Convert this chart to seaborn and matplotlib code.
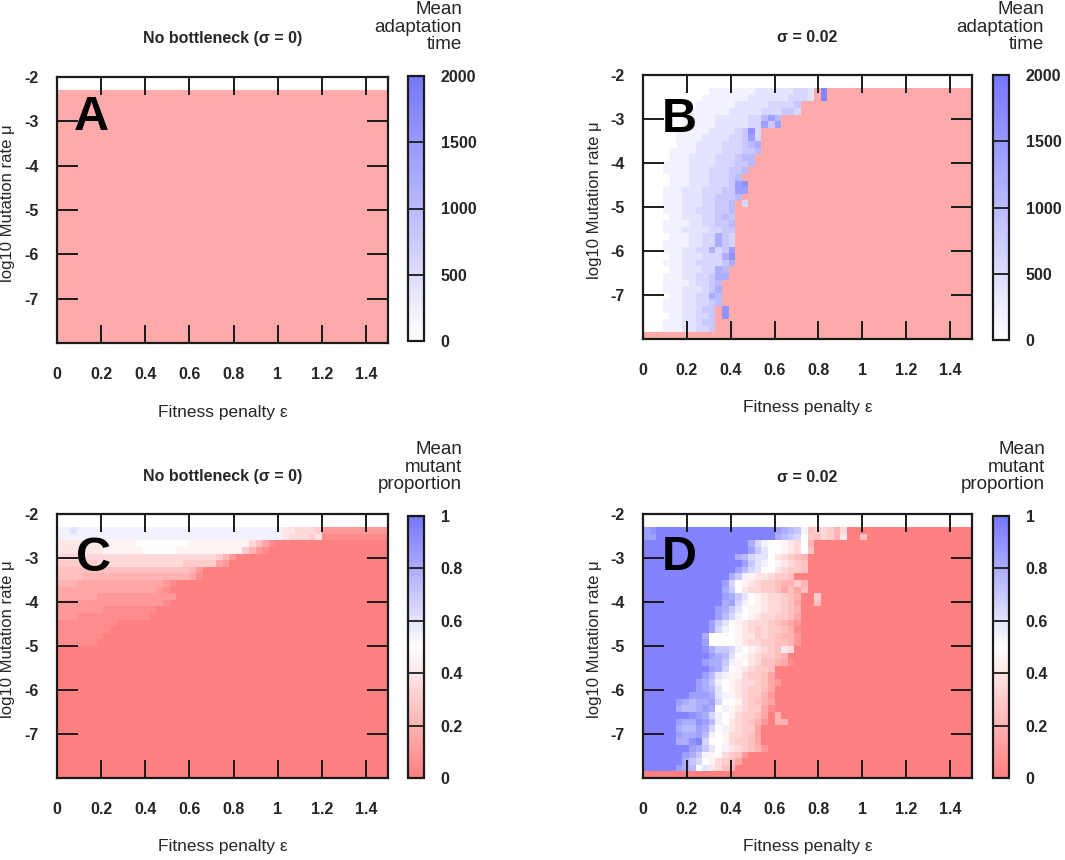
import numpy as np
import pandas as pd
import matplotlib
matplotlib.use("Agg")
import matplotlib.pyplot as plt
import seaborn as sns
from matplotlib.colors import LinearSegmentedColormap, ListedColormap

sns.set_style("white")
plt.rcParams["font.family"] = ["Liberation Sans", "DejaVu Sans"]

# ---------------- grid / axes description ----------------
eps_step = 0.03          # width of one fitness-penalty cell
n_cols = 50              # 0 .. 1.5
mu_top = -2.0
mu_step = 0.15           # height of one log10(mu) cell
n_empty_top = 2          # rows between -2.3 and -2 without data
n_data_rows = 38         # rows from -8 to -2.3

x_ticks = [0, 0.2, 0.4, 0.6, 0.8, 1.0, 1.2, 1.4]
x_tick_labels = ["0", "0.2", "0.4", "0.6", "0.8", "1", "1.2", "1.4"]
y_ticks = [-2, -3, -4, -5, -6, -7, -8]
y_tick_labels = ["-2", "-3", "-4", "-5", "-6", "-7", ""]
time_ticks = [0, 500, 1000, 1500, 2000]
time_tick_labels = ["0", "500", "1000", "1500", "2000"]
prop_ticks = [0, 0.2, 0.4, 0.6, 0.8, 1.0]
prop_tick_labels = ["0", "0.2", "0.4", "0.6", "0.8", "1"]

titles = ["No bottleneck (\u03c3 = 0)", "\u03c3 = 0.02", "No bottleneck (\u03c3 = 0)", "\u03c3 = 0.02"]
letters = ["A", "B", "C", "D"]
xlabel = "Fitness penalty \u03b5"
ylabel = "log10 Mutation rate \u03bc"
cbar_labels = ["Mean\nadaptation\ntime", "Mean\nadaptation\ntime",
               "Mean\nmutant\nproportion", "Mean\nmutant\nproportion"]

# ---------------- data (rows listed from bottom, mu=-8, upward) ----------------
# Adaptation time panels: '.' = population never adapted, digit d = d*200 generations
time_scale = 200
panel_a_rows = [""] * n_data_rows    # no bottleneck: never adapted anywhere

panel_b_rows = [
    "",
    "00011122334",
    "00011122344",
    "00001122334.8",
    "00011122344.8",
    "000111223345",
    "000011223365",
    "000111222346",
    "000111123345",
    "0001112233466",
    "0000112223365",
    "00011122333346",
    "00001122233368",
    "00011122336347",
    "00011112233643",
    "00001112233643",
    "00011122223344",
    "00011112233445",
    "00001122233454",
    "00011122333445",
    "00011122233445.3",
    "000111222334445",
    "0001112223334477",
    "0000111222333478",
    "000011122233345",
    "0001111222333445",
    "00011112222333445",
    "00001112222333455",
    "000011112222333445",
    "000001112222333456",
    "000001111222233473",
    "000001111122223483",
    "000000111112222233" "747",
    "000000111112222233" "575",
    "00000001111112222233" "3443",
    "00000000111111222223" "3334",
    "00000000011111112222" "223332" ".9",
    "00000000001111111222" "222332" ".9",
]

# Mutant proportion panels: base-36 char c -> int(c, 36) / 20  (0 .. 1)
prop_scale = 20
panel_c_rows = [
    "", "", "", "", "", "", "", "", "", "", "", "", "", "", "", "", "", "", "", "",
    "111111",
    "1111111",
    "11111111",
    "111111111",
    "22211111111111",
    "222222211111111",
    "22222222222222221",
    "333333222222222222",
    "33333333333333321",
    "444333333333333321",
    "5555444444444444444431",
    "5555555555555555555542",
    "66666677777777777776666632",
    "777777777777777777777777642",
    "8888888999999aaaaa99999999996421",
    "888888899999aaaaaaaa9999999997531",
    "bbbbbbbbbb" "bbbbbbbbbb" "bbbbbbbbbb" "bbbb" "877768" "1111111111",
    "bbcbbbbbbb" "bbbbbbbbbb" "bbbbbbbbbb" "bbbb" "887776" "2222222222",
]

panel_d_rows = [
    "",
    "jjjjjhgfac8754",
    "jjjjjjgeda97653",
    "jjjjjjhgeb9a7652",
    "jjjjjjjhgecab876542",
    "jjjjjggijdaa976653",
    "jjjjjhgghfba977653",
    "jjjjjgffhgdab87663",
    "jjjjjhggihfba876542044",
    "jjjjjjjihgdba97665304",
    "jjjjjgffghgab9876631",
    "jjjjjhgfgghdaa976543",
    "jjjjjjjhhhgcb9876642",
    "jjjjjjjjhgfca9876653",
    "jjjjjjjjhgeba98776532",
    "jjjjjjjjjhfcb9976653",
    "jjjjjjjjjjhgda987665",
    "jjjjjjjjjhggeb9a8755431",
    "jjjjjjjjjjhgfca9876654",
    "jjjjjjjjjigeedba9876587",
    "jjjjjjjjjhaaaa9877665542",
    "jjjjjjjjjgaaaa9886765442",
    "jjjjjjjjjjhdba9876766541",
    "jjjjjjjjjjheca9877765432",
    "jjjjjjjjjjjhfdba98776653",
    "jjjjjjjjjjjhgeca99877654",
    "jjjjjjjjjjjjghdba9877653005",
    "jjjjjjjjjjjjhgeca9877654006",
    "jjjjjjjjjjjjgea8776653535",
    "jjjjjjjjjjjjhda9876654464",
    "jjjjjjjjjjjjjgeb9887665",
    "jjjjjjjjjjjjjjhfdcaa87665",
    "jjjjjjjjjjjjjjjhecba98765",
    "jjjjjjjjjjjjjjgfdcca87654",
    "jjjjjjjjjjjjjjjjhecaa987a5",
    "jjjjjjjjjjjjjjjjgdbaa987a4",
    "hhjjjjjjjj" "jjjjjjjjjj" "gfeda657648005",
    "hijjjjjjjj" "jjjjjjjjjj" "hgfeb5676470",
]


def decode(rows, fill, scale, base):
    """Turn the row strings into a (top-to-bottom) matrix, NaN where no value."""
    mat = np.full((n_empty_top + n_data_rows, n_cols), np.nan)
    for i, s in enumerate(rows):
        s = s.ljust(n_cols, fill)[:n_cols]
        r = n_empty_top + (n_data_rows - 1 - i)
        for j, ch in enumerate(s):
            if ch != ".":
                mat[r, j] = int(ch, base) * scale
    return mat


def data_mask():
    m = np.zeros((n_empty_top + n_data_rows, n_cols), dtype=bool)
    m[n_empty_top:, :] = True
    return m


mu_centers = [round(mu_top - mu_step * (k + 0.5), 3) for k in range(n_empty_top + n_data_rows)]
eps_centers = [round(eps_step * (k + 0.5), 3) for k in range(n_cols)]

panels = [
    ("time", decode(panel_a_rows, ".", time_scale, 10)),
    ("time", decode(panel_b_rows, ".", time_scale, 10)),
    ("prop", decode(panel_c_rows, "0", 1.0 / prop_scale, 36)),
    ("prop", decode(panel_d_rows, "0", 1.0 / prop_scale, 36)),
]

# ---------------- colours ----------------
no_adapt_color = "#FFAAAA"
time_cmap = LinearSegmentedColormap.from_list("wb", ["#FFFFFF", "#7676FF"])
prop_cmap = LinearSegmentedColormap.from_list("rwb", ["#FF8080", "#FFFFFF", "#7676FF"])
frame_color = "#1a1a1a"

# ---------------- layout (pixels -> figure fraction) ----------------
W, H = 1065, 860
fig = plt.figure(figsize=(W / 100, H / 100), dpi=100)


def rect(l, t, r, b):
    return [l / W, 1 - b / H, (r - l) / W, (b - t) / H]


ax_boxes = [(57, 77, 388, 343), (643, 75, 972, 339), (57, 514, 388, 778), (643, 514, 972, 778)]
cax_boxes = [(408, 76, 424, 341), (993, 75, 1009, 340), (408, 516, 424, 778), (993, 516, 1009, 778)]
cbar_label_pos = [(462, 27), (1044, 27), (462, 467), (1045, 467)]
title_y = [38, 38, 477, 477]
letter_pos = [(0.050, 0.80), (0.056, 0.785), (0.058, 0.785), (0.058, 0.788)]

tick_fs = 11.5
for k, (kind, mat) in enumerate(panels):
    l, t, r, b = ax_boxes[k]
    ax = fig.add_axes(rect(l, t, r, b))
    cax = fig.add_axes(rect(*cax_boxes[k]))
    df = pd.DataFrame(mat, index=mu_centers, columns=eps_centers)
    if kind == "time":
        not_adapted = np.where(data_mask() & np.isnan(mat), 1.0, np.nan)
        sns.heatmap(pd.DataFrame(not_adapted, index=mu_centers, columns=eps_centers),
                    ax=ax, cmap=ListedColormap([no_adapt_color]), vmin=0, vmax=1,
                    cbar=False, xticklabels=False, yticklabels=False)
        sns.heatmap(df, ax=ax, cmap=time_cmap, vmin=0, vmax=2000, cbar=True, cbar_ax=cax,
                    xticklabels=False, yticklabels=False)
        cticks, clabels = time_ticks, time_tick_labels
    else:
        sns.heatmap(df, ax=ax, cmap=prop_cmap, vmin=0, vmax=1, cbar=True, cbar_ax=cax,
                    xticklabels=False, yticklabels=False)
        cticks, clabels = prop_ticks, prop_tick_labels

    ax.set_facecolor("white")
    ax.set_axisbelow(False)
    ax.set_xlim(0, n_cols)
    ax.set_ylim(n_empty_top + n_data_rows, 0)
    ax.set_xticks([v / eps_step for v in x_ticks])
    ax.set_xticklabels(x_tick_labels, fontsize=tick_fs, fontweight="bold", rotation=0)
    ax.set_yticks([(mu_top - v) / mu_step for v in y_ticks])
    ax.set_yticklabels(y_tick_labels, fontsize=tick_fs, fontweight="bold", rotation=0)
    ax.tick_params(axis="x", direction="in", length=13, width=1.4, color=frame_color,
                   top=True, bottom=True, pad=17)
    ax.tick_params(axis="y", direction="in", length=15, width=1.4, color=frame_color,
                   left=True, right=True, pad=13)
    for sp in ax.spines.values():
        sp.set_visible(True)
        sp.set_linewidth(1.6)
        sp.set_color(frame_color)
        sp.set_zorder(5)

    ax.set_xlabel(xlabel, fontsize=12.5)
    ax.xaxis.set_label_coords(0.5, -0.232)
    ax.set_ylabel(ylabel, fontsize=12)
    ax.yaxis.set_label_coords(-0.126, 0.525)

    ax.text(0.5, 1 + (t - title_y[k]) / (b - t), titles[k], transform=ax.transAxes,
            ha="center", va="center", fontsize=11.5, fontweight="bold")
    ax.text(letter_pos[k][0], letter_pos[k][1], letters[k], transform=ax.transAxes,
            ha="left", va="baseline", fontsize=35, fontweight="bold", color="black",
            zorder=6)

    cb = ax.collections[-1].colorbar
    cb.ax.set_axisbelow(False)
    cb.set_ticks(cticks)
    cb.ax.set_yticklabels(clabels, fontsize=tick_fs, fontweight="bold")
    cb.ax.tick_params(direction="in", length=11.5, width=1.3, color=frame_color,
                      right=True, left=False, pad=12)
    cb.outline.set_visible(True)
    cb.outline.set_linewidth(1.6)
    cb.outline.set_edgecolor(frame_color)

    lx, ly = cbar_label_pos[k]
    fig.text(lx / W, 1 - ly / H, cbar_labels[k], ha="right", va="center",
             fontsize=13.5, linespacing=1.02)

fig.savefig("out.png", dpi=100)
